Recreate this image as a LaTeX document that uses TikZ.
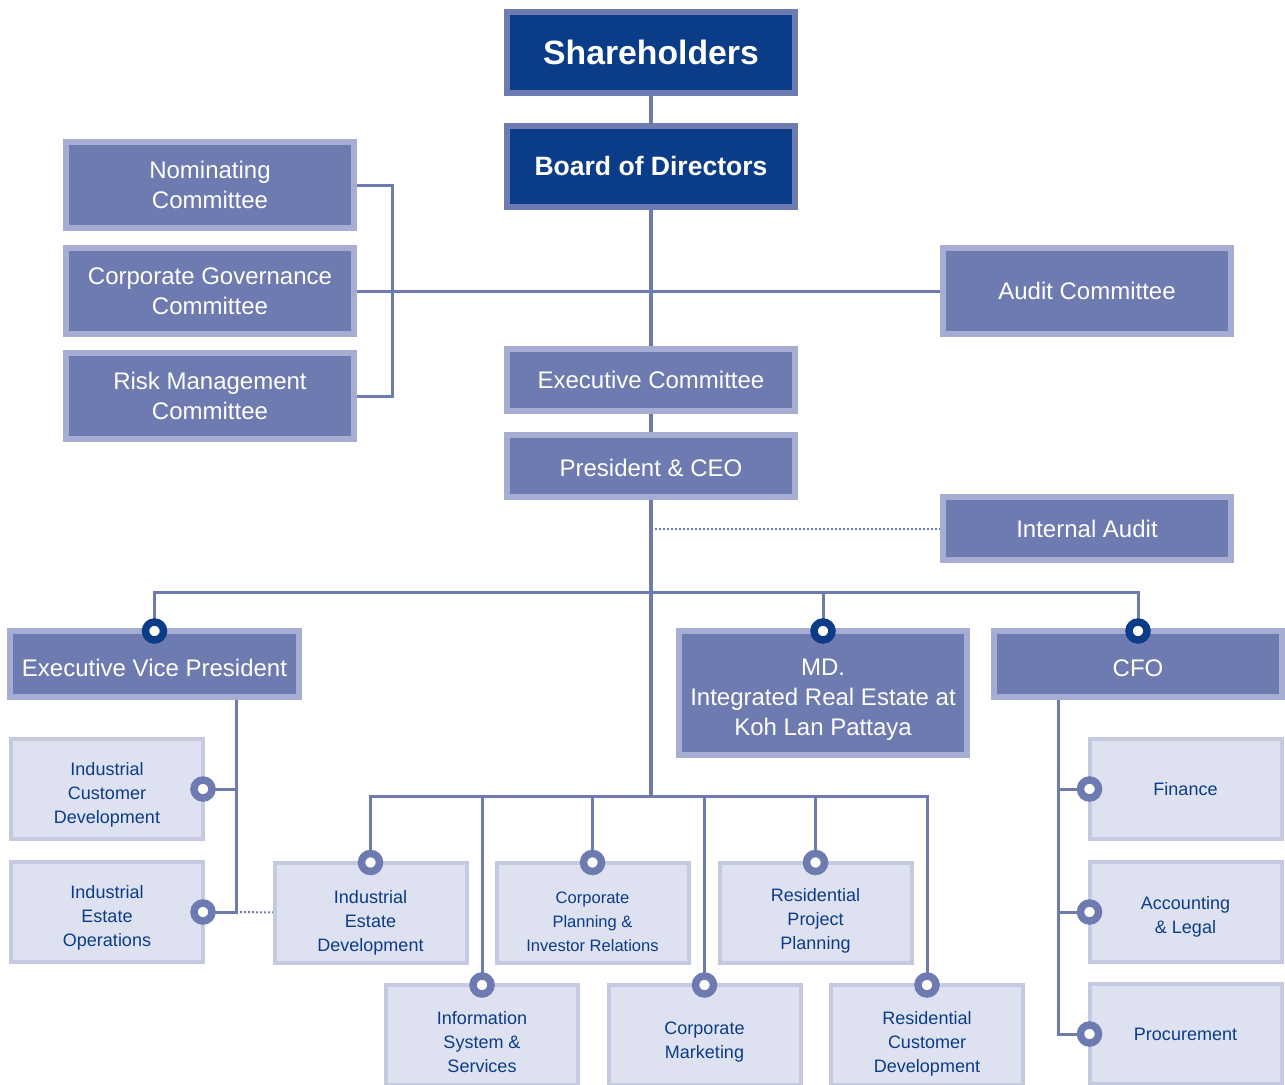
\documentclass[tikz,border=0pt]{standalone}
\usepackage{fontspec}
\setmainfont{Liberation Sans}
\usetikzlibrary{backgrounds}
\definecolor{navy}{HTML}{0B3C88}
\definecolor{midblue}{HTML}{6E7BB1}
\definecolor{paleline}{HTML}{A6ADD3}
\definecolor{lightfill}{HTML}{DEE1F0}
\definecolor{lightline}{HTML}{C5C9E2}
\tikzset{
	topbox/.style={rectangle, fill=navy, draw=midblue, line width=4.5pt, text=white, minimum width=216pt, minimum height=60.75pt, inner sep=0pt, outer sep=0pt, align=center},
	midbox/.style={rectangle, fill=midblue, draw=paleline, line width=4.5pt, text=white, font=\fontsize{18}{22.5}\selectfont, minimum width=216pt, inner sep=0pt, outer sep=0pt, align=center},
	subbox/.style={rectangle, fill=lightfill, draw=lightline, line width=3pt, text=navy, font=\fontsize{13.5}{18}\selectfont, minimum width=144pt, minimum height=75pt, inner sep=0pt, outer sep=0pt, align=center},
	drop/.style={text height=#1},
	trunk/.style={draw=midblue, line width=3pt},
	link/.style={draw=midblue, line width=2.25pt},
	dotline/.style={draw=midblue, line width=1.5pt, dash pattern=on 1.5pt off 1.5pt},
	hubdot/.style={circle, draw=navy, fill=white, line width=5.6pt, minimum size=13.5pt, inner sep=0pt},
	subdot/.style={hubdot, draw=midblue}
}

\begin{document}
\begin{tikzpicture}[x=0.75pt, y=-0.75pt]
			%%%%% START %%%%%
			\useasboundingbox (0, 0) rectangle (1285, 1085);
			
			\node[topbox, font=\fontsize{25.3}{30}\selectfont\bfseries] (share) at (651, 52.5) {Shareholders};
			\node[topbox, font=\fontsize{19.9}{24}\selectfont\bfseries] (board) at (651, 166.5) {Board of Directors};
			
			\node[midbox, minimum height=64.5pt] (nom) at (210, 185) {Nominating\\Committee};
			\node[midbox, minimum height=64.5pt] (cgc) at (210, 291) {Corporate Governance\\Committee};
			\node[midbox, minimum height=64.5pt] (risk) at (210, 396) {Risk Management\\Committee};
			\node[midbox, minimum height=64.5pt] (audit) at (1087, 291) {Audit Committee};
			
			\node[midbox, minimum height=46.5pt] (exco) at (651, 380) {Executive Committee};
			\node[midbox, minimum height=46.5pt, drop=16pt] (ceo) at (651, 466) {President \& CEO};
			\node[midbox, minimum height=47.25pt] (ia) at (1087, 528.5) {Internal Audit};
			
			\node[midbox, minimum height=49.5pt, minimum width=216.75pt, drop=18.5pt] (evp) at (154.5, 664) {Executive Vice President};
			\node[midbox, minimum height=93pt, drop=68pt] (md) at (823, 693) {MD.\\Integrated Real Estate at\\Koh Lan Pattaya};
			\node[midbox, minimum height=49.5pt, drop=18.5pt] (cfo) at (1138, 664) {CFO};
			
			\node[subbox, drop=54.5pt] (icd) at (107, 789) {Industrial\\Customer\\Development};
			\node[subbox, drop=54.5pt] (ieo) at (107, 912) {Industrial\\Estate\\Operations};
			
			\node[subbox, drop=62pt] (ied) at (370.5, 912.5) {Industrial\\Estate\\Development};
			\node[subbox, drop=58pt, font=\fontsize{12.4}{18}\selectfont] (cpir) at (592.5, 912.5) {Corporate\\Planning \&\\Investor Relations};
			\node[subbox, drop=59pt] (rpp) at (815.5, 912.5) {Residential\\Project\\Planning};
			\node[subbox, drop=56pt] (iss) at (482, 1035) {Information\\System \&\\Services};
			\node[subbox, drop=37.8pt] (cmk) at (704.5, 1035) {Corporate\\Marketing};
			\node[subbox, drop=59pt] (rcd) at (927, 1035) {Residential\\Customer\\Development};
			
			\node[subbox] (fin) at (1185.5, 789) {Finance};
			\node[subbox, drop=34.8pt] (acc) at (1185.5, 912) {Accounting\\\& Legal};
			\node[subbox] (proc) at (1185.5, 1034) {Procurement};
			
			\coordinate (midbus) at (651, 592);
			\coordinate (lowbus) at (651, 796);
			\coordinate (evpbus) at (236, 700);
			\coordinate (cfobus) at (1058, 700);
			
			\begin{scope}[on background layer]
				\draw[trunk] (share.south) -- (board.north);
				\draw[trunk] (board.south) -- (exco.north);
				\draw[trunk] (exco.south) -- (ceo.north);
				\draw[trunk] (ceo.south) -- (lowbus);
				
				\draw[link] (cgc.east) -- (audit.west);
				\draw[link] (nom.east) -- ++(38, 0) |- (risk.east);
				\draw[dotline] (ceo.south |- ia.west) ++(4, 0) -- (ia.west);
				
				\foreach \n in {evp, md, cfo}
					\draw[link] (midbus) -| (\n.north);
				\foreach \n in {ied, iss, cpir, cmk, rpp, rcd}
					\draw[link] (lowbus) -| (\n.north);
				\foreach \n in {icd, ieo}
					\draw[link] (\n.east) -| (evpbus);
				\foreach \n in {fin, acc, proc}
					\draw[link] (\n.west) -| (cfobus);
				\draw[dotline] (ieo.east) ++(37, 0) -- (ied.west);
			\end{scope}
			
			\foreach \n in {evp, md, cfo}
				\node[hubdot] (dot-\n) at (\n.north) {};
			\foreach \n in {ied, iss, cpir, cmk, rpp, rcd}
				\node[subdot] (dot-\n) at (\n.north) {};
			\foreach \n in {icd, ieo}
				\node[subdot] (dot-\n) at (\n.east) {};
			\foreach \n in {fin, acc, proc}
				\node[subdot] (dot-\n) at (\n.west) {};
			
			%%%%% END %%%%%
\end{tikzpicture}
\end{document}
